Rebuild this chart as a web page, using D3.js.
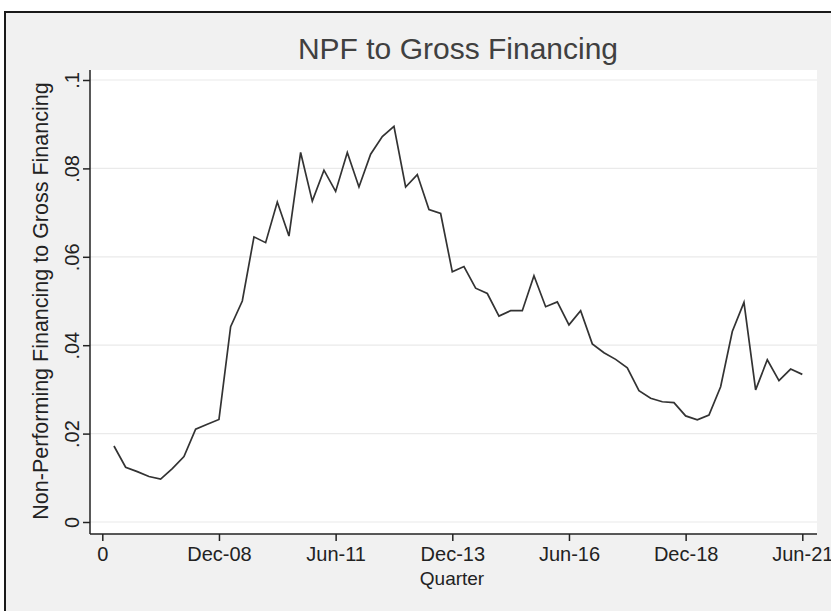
<!DOCTYPE html>
<html>
<head>
<meta charset="utf-8">
<script src="https://cdn.jsdelivr.net/npm/d3@7"></script>
<style>
  html, body { margin: 0; padding: 0; background: #ffffff; }
  svg { display: block; }
  text { font-family: "Liberation Sans", Arial, Helvetica, sans-serif; }
</style>
</head>
<body>
<svg id="chart" width="831" height="611"></svg>
<script>
// Quarter index (0 = Jun-06) and NPF to gross financing ratio
const quarters = d3.range(1, 61);
const npfRatio = [
  0.0172, 0.0124, 0.0114, 0.0103, 0.0097, 0.0121, 0.0148, 0.0210, 0.0221, 0.0232,
  0.0442, 0.0500, 0.0645, 0.0632, 0.0724, 0.0647, 0.0836, 0.0726, 0.0796, 0.0748,
  0.0836, 0.0758, 0.0832, 0.0872, 0.0895, 0.0758, 0.0786, 0.0707, 0.0698, 0.0566,
  0.0578, 0.0529, 0.0517, 0.0466, 0.0478, 0.0478, 0.0557, 0.0487, 0.0498, 0.0446,
  0.0478, 0.0403, 0.0383, 0.0368, 0.0349, 0.0297, 0.0280, 0.0272, 0.0270, 0.0240,
  0.0231, 0.0242, 0.0306, 0.0431, 0.0497, 0.0299, 0.0367, 0.0320, 0.0346, 0.0334
];
const xTickValues = [0, 10, 20, 30, 40, 50, 60];
const xTickLabels = ["0", "Dec-08", "Jun-11", "Dec-13", "Jun-16", "Dec-18", "Jun-21"];
const yTickValues = [0, 0.02, 0.04, 0.06, 0.08, 0.1];
const yTickLabels = ["0", ".02", ".04", ".06", ".08", ".1"];

const svg = d3.select("#chart");

// graph region (light gray panel with dark frame)
svg.append("rect")
  .attr("x", 5).attr("y", 12).attr("width", 840).attr("height", 620)
  .attr("fill", "#f1f1f1").attr("stroke", "#1a1a1a").attr("stroke-width", 2);

// plot region
const plot = { left: 90, right: 817, top: 70, bottom: 534 };
svg.append("rect")
  .attr("x", plot.left).attr("y", plot.top)
  .attr("width", plot.right - plot.left).attr("height", plot.bottom - plot.top)
  .attr("fill", "#ffffff");

const x = d3.scaleLinear().domain([0, 60]).range([102.3, 802.3]);
const y = d3.scaleLinear().domain([0, 0.1]).range([522, 80]);

// horizontal grid lines
svg.append("g")
  .selectAll("line")
  .data(yTickValues)
  .join("line")
  .attr("x1", plot.left).attr("x2", plot.right)
  .attr("y1", d => y(d)).attr("y2", d => y(d))
  .attr("stroke", "#eaeaea").attr("stroke-width", 1.2);

// y axis
const yAxis = d3.axisLeft(y)
  .tickValues(yTickValues)
  .tickFormat((d, i) => yTickLabels[i])
  .tickSize(7)
  .tickPadding(4);
const gy = svg.append("g").attr("transform", `translate(${plot.left},0)`).call(yAxis);
gy.select(".domain").remove();
gy.append("line")
  .attr("x1", 0).attr("x2", 0).attr("y1", plot.top).attr("y2", plot.bottom)
  .attr("stroke", "#222").attr("stroke-width", 1.5);
gy.selectAll(".tick line").attr("stroke", "#222").attr("stroke-width", 1.5);
gy.selectAll(".tick text")
  .attr("font-size", 20)
  .attr("fill", "#222")
  .attr("text-anchor", "middle")
  .attr("x", 0).attr("y", 0).attr("dy", 0)
  .attr("transform", "translate(-11,0) rotate(-90)");

// x axis
const xAxis = d3.axisBottom(x)
  .tickValues(xTickValues)
  .tickFormat((d, i) => xTickLabels[i])
  .tickSize(7)
  .tickPadding(6);
const gx = svg.append("g").attr("transform", `translate(0,${plot.bottom})`).call(xAxis);
gx.select(".domain").remove();
gx.append("line")
  .attr("x1", plot.left).attr("x2", plot.right).attr("y1", 0).attr("y2", 0)
  .attr("stroke", "#222").attr("stroke-width", 1.5);
gx.selectAll(".tick line").attr("stroke", "#222").attr("stroke-width", 1.5);
gx.selectAll(".tick text").attr("font-size", 20).attr("fill", "#222");

// series line
const line = d3.line()
  .x((d, i) => x(quarters[i]))
  .y(d => y(d));
svg.append("path")
  .datum(npfRatio)
  .attr("d", line)
  .attr("fill", "none")
  .attr("stroke", "#333")
  .attr("stroke-width", 1.7)
  .attr("stroke-linejoin", "miter");

// titles
svg.append("text")
  .attr("x", 458).attr("y", 59)
  .attr("text-anchor", "middle")
  .attr("font-size", 30)
  .attr("fill", "#404040")
  .text("NPF to Gross Financing");

svg.append("text")
  .attr("transform", `translate(48,${(y(0) + y(0.1)) / 2}) rotate(-90)`)
  .attr("text-anchor", "middle")
  .attr("font-size", 21.5)
  .attr("fill", "#222")
  .text("Non-Performing Financing to Gross Financing");

svg.append("text")
  .attr("x", 452).attr("y", 585)
  .attr("text-anchor", "middle")
  .attr("font-size", 19)
  .attr("fill", "#222")
  .text("Quarter");
</script>
</body>
</html>
